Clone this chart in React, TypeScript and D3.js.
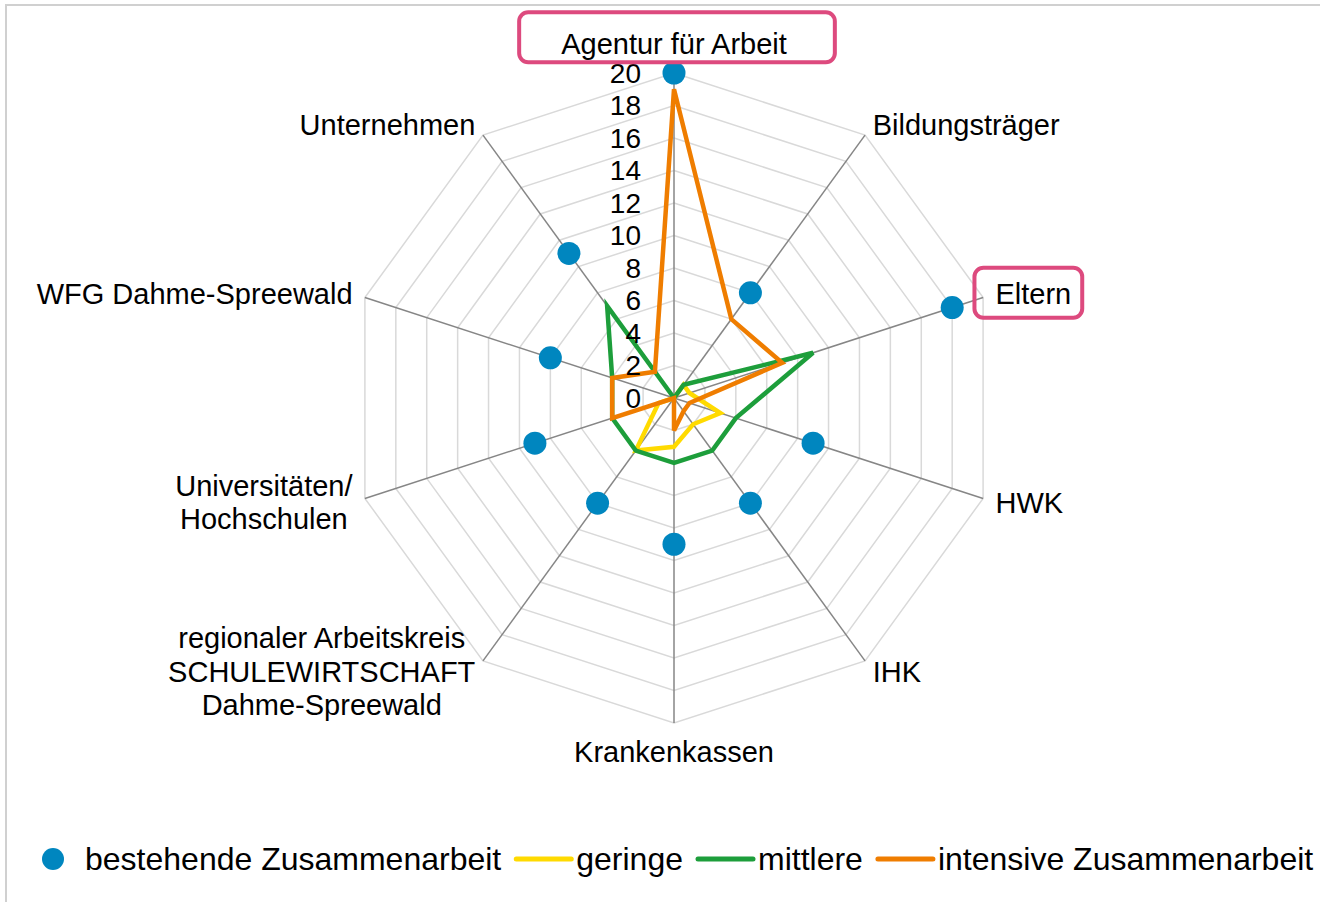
import React, { useEffect, useRef } from 'react';
import * as d3 from 'd3';

const width = 1320;
const height = 902;
const cx = 674;
const cy = 398;
const radius = 325;
const font = '"Liberation Sans", Arial, sans-serif';

const blue = '#0086bf';
const yellow = '#ffda00';
const green = '#1d9e3b';
const orange = '#ef7d00';
const pink = '#dd4a7e';

// categories clockwise from the top, multi-line labels split by \n
const categories = [
  'Agentur für Arbeit',
  'Bildungsträger',
  'Eltern',
  'HWK',
  'IHK',
  'Krankenkassen',
  'regionaler Arbeitskreis\nSCHULEWIRTSCHAFT\nDahme-Spreewald',
  'Universitäten/\nHochschulen',
  'WFG Dahme-Spreewald',
  'Unternehmen',
];

const bestehende = [20, 8, 18, 9, 8, 9, 8, 9, 8, 11];
const geringe = [0, 1, 1, 3, 2, 3, 4, 1, 0, 0];
const mittlere = [0, 1, 9, 4, 4, 4, 4, 4, 4, 7];
const intensive = [19, 6, 7, 1, 1, 2, 0, 4, 4, 2];

const ticks = [0, 2, 4, 6, 8, 10, 12, 14, 16, 18, 20];

const legendLabels = ['bestehende Zusammenarbeit', 'geringe', 'mittlere', 'intensive Zusammenarbeit'];

// annotation boxes drawn round two axis labels (padding around the label text)
const boxes = [
  { label: 'Agentur für Arbeit', left: 42, right: 48, top: 32, bottom: 18 },
  { label: 'Eltern', left: 21, right: 11, top: 26, bottom: 24 },
];

export default function App() {
  const ref = useRef<SVGSVGElement>(null);

  useEffect(() => {
    document.body.style.margin = '0';
    const svg = d3.select(ref.current);
    svg.selectAll('*').remove();

    const n = categories.length;
    const r = d3.scaleLinear().domain([0, 20]).range([0, radius]);
    const angle = d3.scaleLinear().domain([0, n]).range([0, 2 * Math.PI]);
    const idx = d3.range(n);

    // chart area border (cropped in the reference)
    svg.append('rect')
      .attr('x', 6).attr('y', 5)
      .attr('width', 1500).attr('height', 1200)
      .attr('fill', 'white')
      .attr('stroke', '#d0d0d0')
      .attr('stroke-width', 2);

    const g = svg.append('g').attr('transform', `translate(${cx},${cy})`);

    const ring = (v: number) =>
      d3.lineRadial<number>()
        .angle(i => angle(i))
        .radius(() => r(v))
        .curve(d3.curveLinearClosed)(idx);

    g.selectAll('path.ring')
      .data(ticks.filter(t => t > 0))
      .join('path')
      .attr('class', 'ring')
      .attr('d', d => ring(d))
      .attr('fill', 'none')
      .attr('stroke', '#d9d9d9')
      .attr('stroke-width', 1.5);

    g.selectAll('line.spoke')
      .data(idx)
      .join('line')
      .attr('class', 'spoke')
      .attr('x1', 0).attr('y1', 0)
      .attr('x2', i => r(20) * Math.sin(angle(i)))
      .attr('y2', i => -r(20) * Math.cos(angle(i)))
      .attr('stroke', '#868686')
      .attr('stroke-width', 1.5);

    // blue markers first, lines on top (Excel series order)
    g.selectAll('circle.dot')
      .data(bestehende)
      .join('circle')
      .attr('class', 'dot')
      .attr('cx', (d, i) => r(d) * Math.sin(angle(i)))
      .attr('cy', (d, i) => -r(d) * Math.cos(angle(i)))
      .attr('r', 11.5)
      .attr('fill', blue);

    const line = d3.lineRadial<number>()
      .angle((d, i) => angle(i))
      .radius(d => r(d))
      .curve(d3.curveLinearClosed);

    [
      { values: geringe, color: yellow },
      { values: mittlere, color: green },
      { values: intensive, color: orange },
    ].forEach(s => {
      g.append('path')
        .attr('d', line(s.values))
        .attr('fill', 'none')
        .attr('stroke', s.color)
        .attr('stroke-width', 4.5)
        .attr('stroke-linejoin', 'miter');
    });

    // tick labels on top of the series
    g.selectAll('text.tick')
      .data(ticks)
      .join('text')
      .attr('class', 'tick')
      .attr('x', -33)
      .attr('y', d => -r(d))
      .attr('dy', '0.35em')
      .attr('text-anchor', 'end')
      .attr('font-family', font)
      .attr('font-size', 28)
      .attr('fill', '#000')
      .text(d => d);

    // axis labels
    const labelSize = 29;
    const lineH = 33.5;
    const bboxes: Record<string, DOMRect> = {};
    categories.forEach((c, i) => {
      const a = angle(i);
      const s = Math.sin(a);
      const co = Math.cos(a);
      const px = cx + (radius + 13) * s;
      let py = cy - (radius + 13) * co;
      const lines = c.split('\n');
      const blockH = lines.length * lineH;
      if (Math.abs(s) < 0.01) py += co > 0 ? -labelSize * 0.55 : labelSize * 0.55;
      const t = svg.append('text')
        .attr('font-family', font)
        .attr('font-size', labelSize)
        .attr('fill', '#000')
        .attr('text-anchor', 'middle');
      const spans = lines.map((l, k) =>
        t.append('tspan')
          .attr('y', py - blockH / 2 + lineH * (k + 0.5))
          .attr('dy', '0.35em')
          .text(l));
      const maxW = d3.max(spans, sp => (sp.node() as SVGTSpanElement).getComputedTextLength()) || 0;
      const x = Math.abs(s) < 0.01 ? px : s > 0 ? px + maxW / 2 : px - maxW / 2;
      spans.forEach(sp => sp.attr('x', x));
      bboxes[c] = (t.node() as SVGTextElement).getBBox();
    });

    boxes.forEach(b => {
      const bb = bboxes[b.label];
      const mid = bb.y + bb.height / 2;
      svg.append('rect')
        .attr('x', bb.x - b.left)
        .attr('y', mid - b.top)
        .attr('width', bb.width + b.left + b.right)
        .attr('height', b.top + b.bottom)
        .attr('rx', 9)
        .attr('fill', 'none')
        .attr('stroke', pink)
        .attr('stroke-width', 4);
    });

    // legend
    const ly = 859;
    let lx = 42;
    const legendColors = [blue, yellow, green, orange];
    legendLabels.forEach((lab, i) => {
      if (i === 0) {
        svg.append('circle').attr('cx', lx + 11).attr('cy', ly).attr('r', 11).attr('fill', blue);
        lx += 43;
      } else {
        svg.append('line')
          .attr('x1', lx).attr('x2', lx + 55)
          .attr('y1', ly).attr('y2', ly)
          .attr('stroke', legendColors[i])
          .attr('stroke-width', 5)
          .attr('stroke-linecap', 'round');
        lx += 60;
      }
      const t = svg.append('text')
        .attr('x', lx).attr('y', ly)
        .attr('dy', '0.35em')
        .attr('font-family', font)
        .attr('font-size', 32)
        .attr('fill', '#000')
        .text(lab);
      lx += (t.node() as SVGTextElement).getComputedTextLength() + 15;
    });
  }, []);

  return <svg ref={ref} width={width} height={height} style={{ display: 'block', background: 'white' }} />;
}
